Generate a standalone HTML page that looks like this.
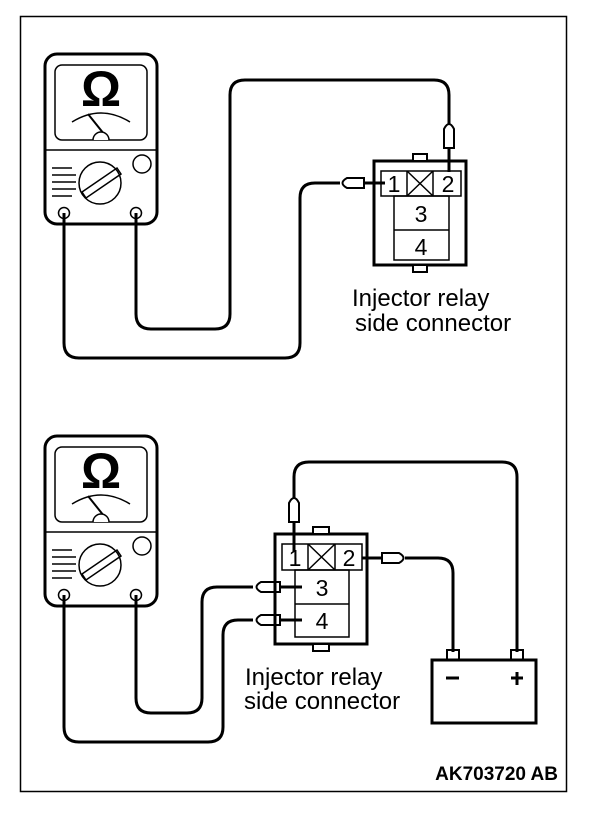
<!DOCTYPE html>
<html><head><style>html,body{margin:0;padding:0;background:#fff}svg{display:block}</style></head><body>
<svg width="608" height="814" viewBox="0 0 608 814" xmlns="http://www.w3.org/2000/svg" font-family="Liberation Sans, sans-serif">
<rect x="20.5" y="16.5" width="546" height="775" fill="none" stroke="#000" stroke-width="1.5"/>
<defs>
<g id="meter">
<rect x="45" y="54" width="112" height="170" rx="12" fill="none" stroke="#000" stroke-width="3"/>
<rect x="55" y="65" width="92" height="75" rx="7" fill="none" stroke="#000" stroke-width="1.5"/>
<line x1="45" y1="150" x2="157" y2="150" stroke="#000" stroke-width="1.5"/>
<text x="101" y="106" font-size="50" font-weight="bold" text-anchor="middle">Ω</text>
<path d="M72 122 Q101 104 130 122" fill="none" stroke="#000" stroke-width="1.5"/>
<line x1="88" y1="114" x2="104" y2="134" stroke="#000" stroke-width="2"/>
<path d="M93 140 A8 8 0 0 1 109 140" fill="#fff" stroke="#000" stroke-width="1.5"/>
<circle cx="100" cy="183" r="21" fill="none" stroke="#000" stroke-width="1.5"/>
<path d="M82 192 L117 168 L121 174 L86 198 Z" fill="none" stroke="#000" stroke-width="1.5"/>
<path d="M52 168 H72 M52 175 H76 M52 182 H76 M52 189 H76 M52 196 H72" stroke="#000" stroke-width="1.5"/>
<circle cx="142" cy="164" r="9" fill="none" stroke="#000" stroke-width="1.5"/>
<circle cx="64" cy="213" r="5.5" fill="#fff" stroke="#000" stroke-width="1.5"/>
<circle cx="136" cy="213" r="5.5" fill="#fff" stroke="#000" stroke-width="1.5"/>
</g>
</defs>
<use href="#meter"/>
<use href="#meter" transform="translate(0,382)"/>
<g fill="none" stroke="#000" stroke-width="3">
<path d="M136 213 V314 Q136 329 151 329 H215 Q230 329 230 314 V95 Q230 80 245 80 H434 Q449 80 449 95 V124"/>
<path d="M64 213 V343 Q64 358 79 358 H285 Q300 358 300 343 V198 Q300 183 315 183 H340"/>
<line x1="449" y1="147" x2="449" y2="172"/>
<line x1="364" y1="183" x2="385" y2="183"/>
<rect x="374" y="161" width="92" height="104"/>
</g>
<g fill="none" stroke="#000" stroke-width="1.5">
<rect x="413" y="154" width="14" height="7" fill="#fff" stroke-width="2"/>
<rect x="413" y="265" width="14" height="7" fill="#fff" stroke-width="2"/>
<rect x="381" y="171" width="80" height="25"/>
<line x1="407" y1="171" x2="407" y2="196"/><line x1="433" y1="171" x2="433" y2="196"/>
<path d="M407 171 L433 196 M433 171 L407 196"/>
<rect x="394" y="196" width="55" height="64"/>
<line x1="394" y1="230" x2="449" y2="230"/>
<path d="M444 148 V129 Q449 119 454 129 V148 Z" stroke-width="2"/>
<path d="M364 178 H347 Q338 183 347 188 H364 Z" stroke-width="2"/>
</g>
<g font-size="23" text-anchor="middle">
<text x="394" y="192">1</text><text x="448" y="192">2</text>
<text x="421" y="222">3</text><text x="421" y="255">4</text>
</g>
<text x="352" y="306" font-size="24">Injector relay</text>
<text x="355" y="331" font-size="24">side connector</text>

<g fill="none" stroke="#000" stroke-width="3">
<path d="M294 498 V477 Q294 462 309 462 H502 Q517 462 517 477 V652"/>
<path d="M405 558 H438 Q453 558 453 573 V652"/>
<line x1="362" y1="558" x2="383" y2="558"/>
<line x1="294" y1="522" x2="294" y2="552"/>
<path d="M136 595 V698 Q136 713 151 713 H187 Q202 713 202 698 V602 Q202 587 217 587 H253"/>
<path d="M64 595 V727 Q64 742 79 742 H208 Q223 742 223 727 V635 Q223 620 238 620 H253"/>
<line x1="280" y1="587" x2="302" y2="587"/>
<line x1="280" y1="620" x2="302" y2="620"/>
<rect x="275" y="534" width="92" height="110"/>
<rect x="432" y="660" width="104" height="63"/>
</g>
<g fill="none" stroke="#000" stroke-width="1.5">
<rect x="313" y="527" width="16" height="7" fill="#fff" stroke-width="2"/>
<rect x="313" y="644" width="16" height="7" fill="#fff" stroke-width="2"/>
<rect x="282" y="544" width="80" height="26"/>
<line x1="308" y1="544" x2="308" y2="570"/><line x1="335" y1="544" x2="335" y2="570"/>
<path d="M308 544 L335 570 M335 544 L308 570"/>
<rect x="295" y="570" width="54" height="67"/>
<line x1="295" y1="604" x2="349" y2="604"/>
<path d="M289 522 V503 Q294 493 299 503 V522 Z" stroke-width="2"/>
<path d="M382 553 H399 Q408 558 399 563 H382 Z" stroke-width="2"/>
<path d="M280 582 H261 Q252 587 261 592 H280 Z" stroke-width="2"/>
<path d="M280 615 H261 Q252 620 261 625 H280 Z" stroke-width="2"/>
<rect x="447" y="650" width="12" height="10" stroke-width="2"/>
<rect x="511" y="650" width="12" height="10" stroke-width="2"/>
<path d="M446 678 H459 M511 678 H523 M517 672 V685" stroke-width="3"/>
</g>
<g font-size="23" text-anchor="middle">
<text x="295" y="566">1</text><text x="349" y="566">2</text>
<text x="322" y="596">3</text><text x="322" y="629">4</text>
</g>
<text x="245" y="685" font-size="24">Injector relay</text>
<text x="244" y="709" font-size="24">side connector</text>
<text x="558" y="780" font-size="19" font-weight="bold" text-anchor="end">AK703720 AB</text>
</svg>
</body></html>
